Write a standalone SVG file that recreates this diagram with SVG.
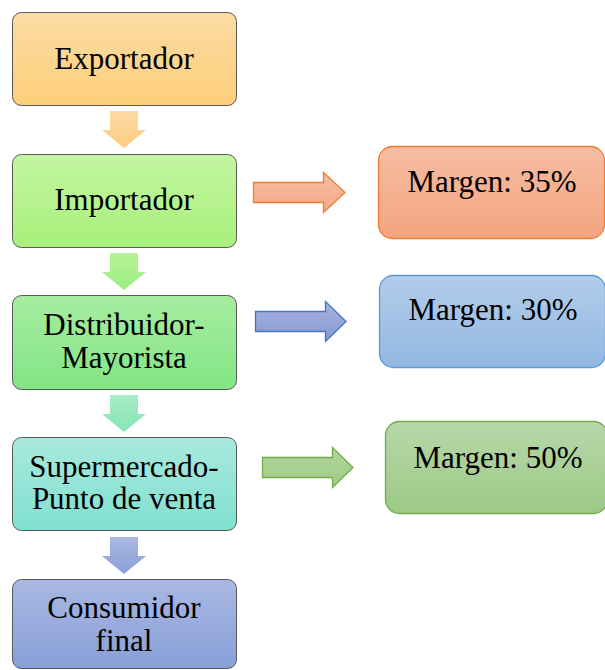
<svg xmlns="http://www.w3.org/2000/svg" width="605" height="670" viewBox="0 0 605 670">
<style>
.box{stroke:#595959;stroke-width:1}
.t{font-family:"Liberation Serif","Times New Roman",serif;font-size:31px;fill:#000;text-anchor:middle}
</style>
<defs>
<linearGradient id="gExp" x1="0" y1="0" x2="0" y2="1"><stop offset="0" stop-color="#fcdba4"/><stop offset="1" stop-color="#fdcf7a"/></linearGradient>
<linearGradient id="gImp" x1="0" y1="0" x2="0" y2="1"><stop offset="0" stop-color="#c3f5a0"/><stop offset="1" stop-color="#a9f07c"/></linearGradient>
<linearGradient id="gDis" x1="0" y1="0" x2="0" y2="1"><stop offset="0" stop-color="#a6eda0"/><stop offset="1" stop-color="#82e584"/></linearGradient>
<linearGradient id="gSup" x1="0" y1="0" x2="0" y2="1"><stop offset="0" stop-color="#a9e9de"/><stop offset="1" stop-color="#80e0d0"/></linearGradient>
<linearGradient id="gCon" x1="0" y1="0" x2="0" y2="1"><stop offset="0" stop-color="#a9b8e2"/><stop offset="1" stop-color="#889fd8"/></linearGradient>
<linearGradient id="gM35" x1="0" y1="0" x2="0" y2="1"><stop offset="0" stop-color="#f6bda2"/><stop offset="1" stop-color="#f4a480"/></linearGradient>
<linearGradient id="gM30" x1="0" y1="0" x2="0" y2="1"><stop offset="0" stop-color="#b2cce9"/><stop offset="1" stop-color="#93b8e2"/></linearGradient>
<linearGradient id="gM50" x1="0" y1="0" x2="0" y2="1"><stop offset="0" stop-color="#b7d7a9"/><stop offset="1" stop-color="#9dc986"/></linearGradient>
<linearGradient id="gA1" x1="0" y1="0" x2="0" y2="1"><stop offset="0" stop-color="#fddba6"/><stop offset="1" stop-color="#fdcb7e"/></linearGradient>
<linearGradient id="gA2" x1="0" y1="0" x2="0" y2="1"><stop offset="0" stop-color="#b6f396"/><stop offset="1" stop-color="#9bee84"/></linearGradient>
<linearGradient id="gA3" x1="0" y1="0" x2="0" y2="1"><stop offset="0" stop-color="#a6ecc4"/><stop offset="1" stop-color="#86e6b6"/></linearGradient>
<linearGradient id="gA4" x1="0" y1="0" x2="0" y2="1"><stop offset="0" stop-color="#a9b8e0"/><stop offset="1" stop-color="#8aa0d8"/></linearGradient>
<linearGradient id="gR1" x1="0" y1="0" x2="0" y2="1"><stop offset="0" stop-color="#f6bca2"/><stop offset="1" stop-color="#f4a886"/></linearGradient>
<linearGradient id="gR2" x1="0" y1="0" x2="0" y2="1"><stop offset="0" stop-color="#a7b4df"/><stop offset="1" stop-color="#8798d3"/></linearGradient>
<linearGradient id="gR3" x1="0" y1="0" x2="0" y2="1"><stop offset="0" stop-color="#b3d59f"/><stop offset="1" stop-color="#9fcb86"/></linearGradient>
</defs>

<g id="connectors">
<path d="M110,111 H138 V130 H146 L124,148 L102,130 H110 Z" fill="url(#gA1)"/>
<path d="M110,253 H138 V272 H146 L124,290 L102,272 H110 Z" fill="url(#gA2)"/>
<path d="M110,395 H138 V414 H146 L124,432 L102,414 H110 Z" fill="url(#gA3)"/>
<path d="M110,537 H138 V556 H146 L124,574 L102,556 H110 Z" fill="url(#gA4)"/>
<path d="M253.5,182.5 H323.5 V172.5 L345,192.5 L323.5,212.5 V202.5 H253.5 Z" fill="url(#gR1)" stroke="#ed7d31" stroke-width="1.3"/>
<path d="M255.5,311.5 H325.5 V301.5 L346,321.5 L325.5,341.5 V331.5 H255.5 Z" fill="url(#gR2)" stroke="#4472c4" stroke-width="1.3"/>
<path d="M262.5,457.5 H332.5 V447.5 L353,467.5 L332.5,487.5 V477.5 H262.5 Z" fill="url(#gR3)" stroke="#70ad47" stroke-width="1.3"/>
</g>

<g id="exportador">
<rect class="box" x="12.5" y="12.5" width="224" height="93" rx="9" fill="url(#gExp)"/>
<text class="t" x="124" y="69">Exportador</text>
</g>
<g id="importador">
<rect class="box" x="12.5" y="154.5" width="224" height="93" rx="9" fill="url(#gImp)"/>
<text class="t" x="124" y="210">Importador</text>
</g>
<g id="distribuidor">
<rect class="box" x="12.5" y="295.5" width="224" height="94" rx="9" fill="url(#gDis)"/>
<text class="t" x="124" y="335">Distribuidor-</text>
<text class="t" x="124" y="368">Mayorista</text>
</g>
<g id="supermercado">
<rect class="box" x="12.5" y="437.5" width="224" height="93" rx="9" fill="url(#gSup)"/>
<text class="t" x="124" y="477">Supermercado-</text>
<text class="t" x="124" y="509">Punto de venta</text>
</g>
<g id="consumidor">
<rect class="box" x="12.5" y="579.5" width="224" height="89" rx="9" fill="url(#gCon)"/>
<text class="t" x="124" y="618">Consumidor</text>
<text class="t" x="124" y="651">final</text>
</g>

<g id="margen35">
<rect x="378.5" y="146.5" width="226" height="92" rx="14" fill="url(#gM35)" stroke="#ed7d31" stroke-width="1.3"/>
<text class="t" x="492" y="192">Margen: 35%</text>
</g>
<g id="margen30">
<rect x="379.5" y="275.5" width="226" height="92" rx="14" fill="url(#gM30)" stroke="#5b9bd5" stroke-width="1.3"/>
<text class="t" x="493" y="320">Margen: 30%</text>
</g>
<g id="margen50">
<rect x="385.5" y="421.5" width="222" height="92" rx="14" fill="url(#gM50)" stroke="#70ad47" stroke-width="1.3"/>
<text class="t" x="498" y="468">Margen: 50%</text>
</g>
</svg>
